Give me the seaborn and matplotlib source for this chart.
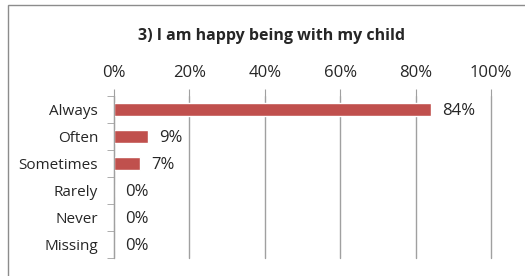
import seaborn as sns
import pandas as pd
import matplotlib.pyplot as plt
from matplotlib.patches import Rectangle

categories = ["Always", "Often", "Sometimes", "Rarely", "Never", "Missing"]
values = [84, 9, 7, 0, 0, 0]
title = "3) I am happy being with my child"

df = pd.DataFrame({"answer": categories, "pct": values})

sns.set_style("white")
plt.rcParams['font.family'] = ['Open Sans', 'DejaVu Sans']

fig = plt.figure(figsize=(5.25, 2.76), dpi=100)
ax = fig.add_axes([114 / 525, 1 - 258 / 276, (491 - 114) / 525, (258 - 96) / 276])

# outer chart frame
fig.patches.append(Rectangle((8 / 525, -0.1), 1.2, 1 - 5 / 276 + 0.1, transform=fig.transFigure,
                             fill=False, edgecolor="#8c8c8c", linewidth=1))

sns.barplot(data=df, y="answer", x="pct", color="#C0504D", width=0.45, saturation=1, ax=ax)

ax.set_xlim(0, 100)
ax.set_ylim(5.5, -0.5)
ax.set_xticks([0, 20, 40, 60, 80, 100])
ax.set_xticklabels([f"{t}%" for t in range(0, 101, 20)])
ax.xaxis.tick_top()
ax.tick_params(axis="x", top=True, length=5, color="#a0a0a0", labelsize=12, pad=6)
ax.tick_params(axis="y", left=False, labelsize=11, pad=8)
ax.set_yticks(range(len(categories)), minor=False)
ax.set_yticks([i - 0.5 for i in range(len(categories) + 1)], minor=True)
ax.tick_params(axis="y", which="minor", left=True, length=5, color="#a0a0a0")
ax.grid(axis="x", color="#a0a0a0", linewidth=1)
for gl in ax.get_xgridlines():
    gl.set_clip_on(False)
ax.set_axisbelow(True)
for s in ["right", "bottom", "top"]:
    ax.spines[s].set_visible(False)
ax.spines["left"].set_color("#a0a0a0")
ax.set_xlabel("")
ax.set_ylabel("")

for i, v in enumerate(values):
    ax.text(v + 3, i + 0.05, f"{v}%", va="center", ha="left", fontsize=12)

fig.text(271 / 525, 1 - 36 / 276, title, ha="center", va="center", fontsize=11.5, fontweight="bold")

fig.savefig("out.png", dpi=100)
